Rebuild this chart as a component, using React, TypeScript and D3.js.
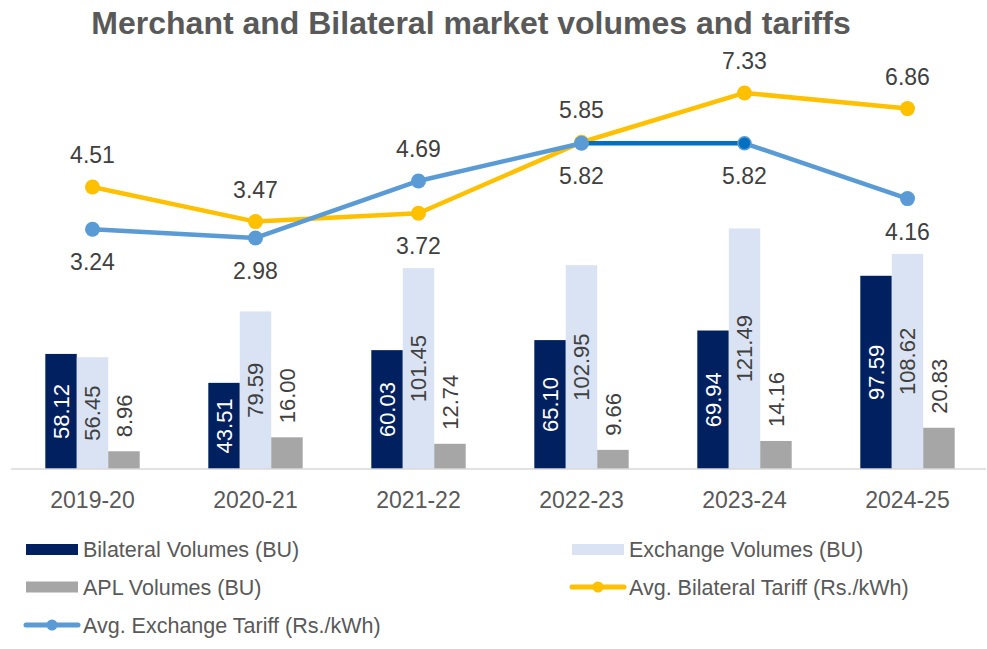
import React from "react";
import * as d3 from "d3";

const categories = ["2019-20", "2020-21", "2021-22", "2022-23", "2023-24", "2024-25"];
const bilateralVolumes = [58.12, 43.51, 60.03, 65.1, 69.94, 97.59];
const exchangeVolumes = [56.45, 79.59, 101.45, 102.95, 121.49, 108.62];
const aplVolumes = [8.96, 16.0, 12.74, 9.66, 14.16, 20.83];
const bilateralTariff = [4.51, 3.47, 3.72, 5.85, 7.33, 6.86];
const exchangeTariff = [3.24, 2.98, 4.69, 5.82, 5.82, 4.16];

const W = 987;
const H = 649;
const FONT = "'Liberation Sans', Arial, sans-serif";
const C_BIL = "#002060";
const C_EXC = "#DAE3F3";
const C_APL = "#A6A6A6";
const C_YEL = "#FFC000";
const C_BLUE = "#5B9BD5";
const C_DBLUE = "#0070C0";
const LABEL = "#404040";
const GREY = "#595959";

export default function App() {
  const x = d3.scaleBand<string>().domain(categories).range([11, 989]).padding(0);
  const yL = d3.scaleLinear().domain([0, 200]).range([469, 73]);
  const yR = d3.scaleLinear().domain([-4, 8]).range([470.6, 70.6]);
  const step = x.step();
  const bw = step * 0.193;
  const cx = (c: string) => (x(c) as number) + x.bandwidth() / 2;

  const barSeries = [
    { key: "bil", values: bilateralVolumes, color: C_BIL, off: -1, text: "#FFFFFF", pos: "center" },
    { key: "exc", values: exchangeVolumes, color: C_EXC, off: 0, text: LABEL, pos: "center" },
    { key: "apl", values: aplVolumes, color: C_APL, off: 1, text: LABEL, pos: "outside" },
  ];

  const line = d3
    .line<number>()
    .x((_, i) => cx(categories[i]))
    .y((d) => yR(d));

  const legendItems = [
    { label: "Bilateral Volumes (BU)", type: "bar", color: C_BIL, x: 26, y: 549.5 },
    { label: "Exchange Volumes (BU)", type: "bar", color: C_EXC, x: 572, y: 549.5 },
    { label: "APL Volumes (BU)", type: "bar", color: C_APL, x: 26, y: 587 },
    { label: "Avg. Bilateral Tariff (Rs./kWh)", type: "line", color: C_YEL, x: 572, y: 587 },
    { label: "Avg. Exchange Tariff (Rs./kWh)", type: "line", color: C_BLUE, x: 26, y: 625 },
  ];

  return (
    <svg
      width={W}
      height={H}
      viewBox={`0 0 ${W} ${H}`}
      style={{ position: "absolute", left: 0, top: 0, background: "#fff" }}
      fontFamily={FONT}
    >
      <rect width={W} height={H} fill="#fff" />
      <text x={471} y={34} textAnchor="middle" fontSize={32} fontWeight="bold" fill={GREY}>
        Merchant and Bilateral market volumes and tariffs
      </text>

      {/* bars */}
      {barSeries.map((s) =>
        s.values.map((v, i) => {
          const c = categories[i];
          const bx = cx(c) + s.off * bw - bw / 2;
          return (
            <rect key={s.key + i} x={bx} y={yL(v)} width={bw} height={yL(0) - yL(v)} fill={s.color} />
          );
        })
      )}

      {/* axis line */}
      <line x1={11} x2={986} y1={yL(0)} y2={yL(0)} stroke="#D9D9D9" strokeWidth={1.5} />

      {/* bar labels */}
      {barSeries.map((s) =>
        s.values.map((v, i) => {
          const c = categories[i];
          const lx = cx(c) + s.off * bw;
          if (s.pos === "center") {
            const ly = (yL(v) + yL(0)) / 2;
            return (
              <text
                key={"l" + s.key + i}
                transform={`translate(${lx},${ly}) rotate(-90)`}
                textAnchor="middle"
                dy="0.35em"
                fontSize={22}
                fill={s.text}
              >
                {v.toFixed(2)}
              </text>
            );
          }
          const ly = yL(v) - 14;
          return (
            <text
              key={"l" + s.key + i}
              transform={`translate(${lx},${ly}) rotate(-90)`}
              textAnchor="start"
              dy="0.35em"
              fontSize={22}
              fill={s.text}
            >
              {v.toFixed(2)}
            </text>
          );
        })
      )}

      {/* tick labels */}
      {categories.map((c) => (
        <text key={"t" + c} x={cx(c)} y={508} textAnchor="middle" fontSize={23} fill={GREY}>
          {c}
        </text>
      ))}

      {/* lines */}
      <path d={line(bilateralTariff) || ""} fill="none" stroke={C_YEL} strokeWidth={4.5} strokeLinejoin="round" strokeLinecap="round" />
      {bilateralTariff.map((v, i) => (
        <circle key={"by" + i} cx={cx(categories[i])} cy={yR(v)} r={7.5} fill={C_YEL} />
      ))}
      {exchangeTariff.slice(0, -1).map((v, i) => {
        const dark = i === 3;
        return (
          <line
            key={"seg" + i}
            x1={cx(categories[i])}
            y1={yR(v)}
            x2={cx(categories[i + 1])}
            y2={yR(exchangeTariff[i + 1])}
            stroke={dark ? C_DBLUE : C_BLUE}
            strokeWidth={4.5}
            strokeLinecap="round"
          />
        );
      })}
      {exchangeTariff.map((v, i) => (
        <circle
          key={"bx" + i}
          cx={cx(categories[i])}
          cy={yR(v)}
          r={i === 4 ? 6.5 : 7.5}
          fill={i === 4 ? C_DBLUE : C_BLUE}
          stroke={i === 4 ? C_BLUE : "none"}
          strokeWidth={i === 4 ? 1.5 : 0}
        />
      ))}

      {/* line labels */}
      {categories.map((c, i) => {
        const b = bilateralTariff[i];
        const e = exchangeTariff[i];
        const bAbove = b >= e;
        return (
          <g key={"ll" + c}>
            <text x={cx(c)} y={yR(b) + (bAbove ? -24 : 41)} textAnchor="middle" fontSize={23} fill={LABEL}>
              {b.toFixed(2)}
            </text>
            <text x={cx(c)} y={yR(e) + (bAbove ? 41 : -24)} textAnchor="middle" fontSize={23} fill={LABEL}>
              {e.toFixed(2)}
            </text>
          </g>
        );
      })}

      {/* legend */}
      {legendItems.map((it) => (
        <g key={it.label}>
          {it.type === "bar" ? (
            <rect x={it.x} y={it.y - 5.5} width={52} height={11} fill={it.color} />
          ) : (
            <g>
              <line x1={it.x} x2={it.x + 52} y1={it.y} y2={it.y} stroke={it.color} strokeWidth={5} strokeLinecap="round" />
              <circle cx={it.x + 26} cy={it.y} r={5.5} fill={it.color} />
            </g>
          )}
          <text x={it.x + 57} y={it.y + 7.5} fontSize={21.5} fill={GREY}>
            {it.label}
          </text>
        </g>
      ))}
    </svg>
  );
}
